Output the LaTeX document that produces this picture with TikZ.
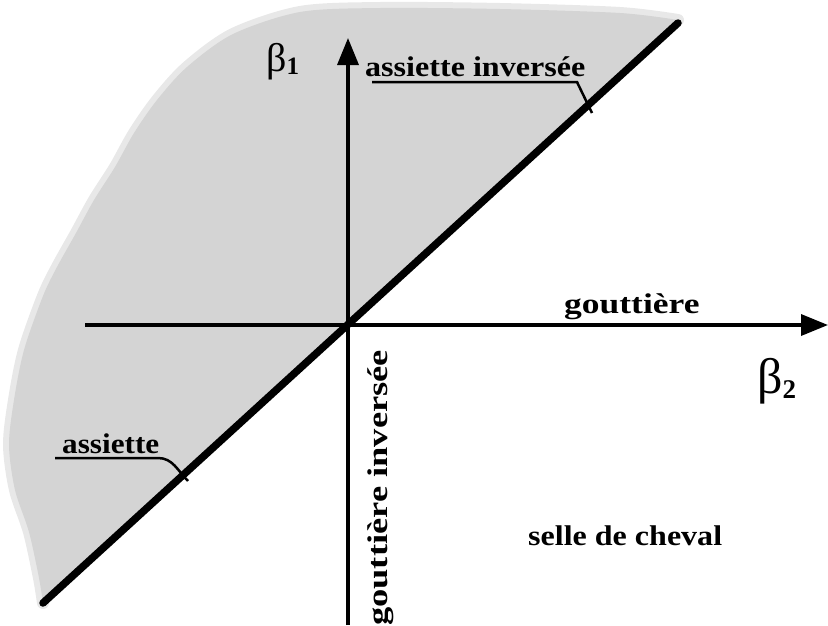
\documentclass[tikz,border=0pt]{standalone}
\usepackage{fontspec}
\setmainfont{Liberation Serif}
\usetikzlibrary{arrows.meta}
\tikzset{
  axis/.style={line width=3.5pt, -{Triangle[length=27pt,width=21pt]}},
  diag/.style={line width=7.5pt, line cap=round},
  leader/.style={line width=2.5pt},
  lbl/.style={inner sep=0pt, font=\bfseries\fontsize{28.5}{28.5}\selectfont},
  shade/.style={fill=black!17, draw=none},
  fringe/.style={draw=black!9, line width=12pt, line cap=round},
}
\def\bnd{(43,603) (39,578) (29,532) (15,490) (9,445) (14,400) (24,350) (43,296) (57,267) (76,233) (94,200) (115,167) (134,133) (157,100) (187,67) (233,34) (300,12) (380,8) (500,9) (620,13) (678,20)}
\begin{document}
\begin{tikzpicture}[x=1pt,y=-1pt]
\useasboundingbox (0,0) rectangle (828,625);
% shaded half-plane with soft edge
\draw[fringe] plot[smooth] coordinates {\bnd};
\fill[shade] plot[smooth] coordinates {\bnd} -- (678,23) -- cycle;
% coordinates
\coordinate (hl) at (85,325);
\coordinate (hr) at (828,325);
\coordinate (vb) at (348,625);
\coordinate (vt) at (348,38);
\coordinate (dl) at (43,603);
\coordinate (dr) at (678,23);
% axes
\draw[axis] (hl) -- (hr);
\draw[axis] (vb) -- (vt);
\draw[diag] (dl) -- (dr);
% labels
\node[lbl, anchor=base west] (ai) at (365,76) {\scalebox{1.126}[1]{assiette inversée}};
\node[lbl, anchor=base west] (as) at (62,453) {\scalebox{1.095}[1]{assiette}};
\node[lbl, anchor=base west] (go) at (564,313) {\scalebox{1.245}[1]{gouttière}};
\node[lbl, anchor=base west] (sc) at (528,545) {\scalebox{1.124}[1]{selle de cheval}};
\node[lbl, anchor=base west, rotate=90] (gi) at (387,626) {\scalebox{1.28}[1]{gouttière inversée}};
\node[inner sep=0pt, anchor=base west] (b1) at (266,71) {\fontsize{40}{40}\selectfont β\raisebox{-3pt}{\bfseries\fontsize{25}{25}\selectfont 1}};
\node[inner sep=0pt, anchor=base west] (b2) at (757,393) {\fontsize{50}{50}\selectfont β\raisebox{-5pt}{\bfseries\fontsize{27}{27}\selectfont 2}};
% leaders
\coordinate (ai1) at (372,82);
\coordinate (ai2) at (577,82);
\coordinate (ai3) at (592,113);
\draw[leader] (ai1) -- (ai2) -- (ai3);
\coordinate (as1) at (55,458);
\coordinate (as2) at (158,458);
\coordinate (as3) at (188,481);
\draw[leader] (as1) -- (as2) to[out=0,in=135] (as3);
\end{tikzpicture}
\end{document}
